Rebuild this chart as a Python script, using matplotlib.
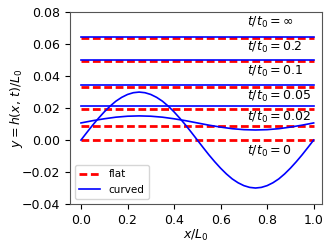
import numpy as np
import matplotlib
matplotlib.use("Agg")
import matplotlib.pyplot as plt

# sampled x positions (x/L0)
x = [0.0, 0.025, 0.05, 0.075, 0.1, 0.125, 0.15, 0.175, 0.2, 0.225, 0.25,
     0.275, 0.3, 0.325, 0.35, 0.375, 0.4, 0.425, 0.45, 0.475, 0.5,
     0.525, 0.55, 0.575, 0.6, 0.625, 0.65, 0.675, 0.7, 0.725, 0.75,
     0.775, 0.8, 0.825, 0.85, 0.875, 0.9, 0.925, 0.95, 0.975, 1.0]

# curved profile at t/t0 = 0
curved_t0 = [0.0, 0.0047, 0.0093, 0.0136, 0.0176, 0.0212, 0.0243, 0.0267, 0.0285, 0.0296, 0.0300,
             0.0296, 0.0285, 0.0267, 0.0243, 0.0212, 0.0176, 0.0136, 0.0093, 0.0047, 0.0,
             -0.0047, -0.0093, -0.0136, -0.0176, -0.0212, -0.0243, -0.0267, -0.0285, -0.0296, -0.0300,
             -0.0296, -0.0285, -0.0267, -0.0243, -0.0212, -0.0176, -0.0136, -0.0093, -0.0047, 0.0]

# curved profile at t/t0 = 0.02
curved_t002 = [0.0107, 0.0114, 0.0121, 0.0127, 0.0133, 0.0138, 0.0143, 0.0146, 0.0149, 0.0150, 0.0151,
               0.0150, 0.0149, 0.0146, 0.0143, 0.0138, 0.0133, 0.0127, 0.0121, 0.0114, 0.0107,
               0.0100, 0.0093, 0.0087, 0.0081, 0.0076, 0.0071, 0.0068, 0.0065, 0.0064, 0.0063,
               0.0064, 0.0065, 0.0068, 0.0071, 0.0076, 0.0081, 0.0087, 0.0093, 0.0100, 0.0107]

# nearly flat curved profiles (mean heights) at t/t0 = 0.05, 0.1, 0.2, inf
curved_levels = [0.0213, 0.0346, 0.0500, 0.0642]

# flat film heights at t/t0 = 0, 0.02, 0.05, 0.1, 0.2, inf
flat_levels = [0.0, 0.0087, 0.0196, 0.0333, 0.0494, 0.0640]

labels = [r"$t/t_0 = 0$", r"$t/t_0 = 0.02$", r"$t/t_0 = 0.05$",
          r"$t/t_0 = 0.1$", r"$t/t_0 = 0.2$", r"$t/t_0 = \infty$"]
label_y = [-0.0073, 0.0142, 0.0275, 0.0427, 0.0577, 0.0733]
label_x = 0.715

fig = plt.figure(figsize=(3.32, 2.47), dpi=100)
ax = fig.add_axes([0.211, 0.174, 0.759, 0.777])

xa = np.array(x)
for i, h in enumerate(flat_levels):
    ax.plot(xa, np.full_like(xa, h), color='red', ls=(0, (2.8, 1.3)), lw=2,
            label='flat' if i == 0 else None, zorder=2)

ax.plot(xa, curved_t0, color='blue', lw=1.2, label='curved', zorder=3)
ax.plot(xa, curved_t002, color='blue', lw=1.2, zorder=3)
for h in curved_levels:
    ax.plot(xa, np.full_like(xa, h), color='blue', lw=1.2, zorder=3)

for lab, ly in zip(labels, label_y):
    ax.text(label_x, ly, lab, fontsize=9, va='center', ha='left')

ax.set_xlim(-0.047, 1.036)
ax.set_ylim(-0.04, 0.08)
ax.set_xticks([0.0, 0.2, 0.4, 0.6, 0.8, 1.0])
ax.set_yticks([-0.04, -0.02, 0.0, 0.02, 0.04, 0.06, 0.08])
ax.tick_params(labelsize=9)
ax.set_xlabel(r"$x/L_0$", fontsize=9, labelpad=1)
ax.set_ylabel(r"$y = h(x,\,t)/L_0$", fontsize=9, labelpad=-2)
for s in ax.spines.values():
    s.set_color('#555555')
ax.legend(loc='lower left', fontsize=7.5, handlelength=2.0)

fig.savefig("out.png", dpi=100)
